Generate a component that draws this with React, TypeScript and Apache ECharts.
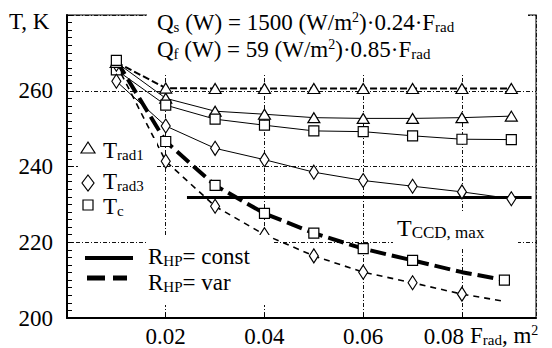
import React, { useEffect, useRef } from 'react';
import * as echarts from 'echarts';

const SERIF = 'Liberation Serif';

// F_rad positions (m^2)
const fRad = [0.01, 0.02, 0.03, 0.04, 0.05, 0.06, 0.07, 0.08, 0.09];
const fRadVar = [0.01, 0.02, 0.03, 0.04, 0.05, 0.06, 0.07, 0.08, 0.0886];

// R_HP = const (solid thin)
const tRad1Const = [267.5, 258.0, 254.6, 253.8, 252.9, 252.7, 252.7, 252.9, 253.3];
const tRad3Const = [262.5, 250.7, 244.8, 241.8, 238.5, 236.3, 234.8, 233.3, 231.5];
const tCConst = [265.5, 256.2, 252.5, 250.9, 249.4, 249.2, 248.1, 247.2, 247.1];

// R_HP = var (dashed)
const tRad1Var = [267.5, 260.7, 260.6, 260.6, 260.6, 260.6, 260.6, 260.6, 260.6];
const tRad3Var = [267.0, 241.4, 229.5, 222.0, 216.4, 212.1, 209.3, 206.3, 204.4];
const tCVar = [268.0, 246.6, 235.0, 227.6, 222.4, 218.3, 215.2, 212.1, 210.0];

// points drawn without a marker (index into arrays)
const tRad3VarNoMarker = [8];
const tCVarNoMarker = [7];

// T_CCD,max
const tCcdMax = 231.8;
const tCcdRange = [0.0243, 0.0941];

const yTicks = { min: 200, max: 280, interval: 20 };
const xTicks = { min: 0, max: 0.095, interval: 0.02 };

function pts(xs: number[], ys: number[], hidden: number[] = []) {
  return ys.map((y, i) =>
    hidden.includes(i) ? { value: [xs[i], y], symbol: 'none' } : { value: [xs[i], y] }
  );
}

const markerStyle = { color: '#fff', borderColor: '#000', borderWidth: 1.2 };

const textRich = {
  m: { fontSize: 23, fontFamily: SERIF, fill: '#000', lineHeight: 24, verticalAlign: 'middle' },
  s: { fontSize: 15, fontFamily: SERIF, fill: '#000', lineHeight: 11, verticalAlign: 'bottom' },
  p: { fontSize: 14, fontFamily: SERIF, fill: '#000', lineHeight: 12, verticalAlign: 'top' },
  M: { fontSize: 24, fontFamily: SERIF, fill: '#000', lineHeight: 25, verticalAlign: 'middle' },
  S: { fontSize: 17, fontFamily: SERIF, fill: '#000', lineHeight: 12, verticalAlign: 'bottom' },
};

function rtext(x: number, y: number, text: string) {
  return {
    type: 'text',
    x,
    y,
    z: 60,
    style: { text, rich: textRich, verticalAlign: 'middle', align: 'left' },
  };
}

function bg(x: number, y: number, w: number, h: number) {
  return { type: 'rect', z: 50, shape: { x, y, width: w, height: h }, style: { fill: '#fff' } };
}

export default function App() {
  const ref = useRef<HTMLDivElement>(null);
  useEffect(() => {
    if (!ref.current) return;
    document.body.style.margin = '0';
    const chart = echarts.init(ref.current, null, { renderer: 'svg' });
    const gridLine = { show: true, lineStyle: { color: '#111', width: 1, type: [4, 2, 1, 2] } };
    const option: any = {
      animation: false,
      backgroundColor: '#fff',
      grid: {
        left: 67,
        right: 16,
        top: 15,
        bottom: 29,
        show: true,
        borderColor: '#555',
        borderWidth: 1.5,
      },
      xAxis: {
        type: 'value',
        min: xTicks.min,
        max: xTicks.max,
        interval: xTicks.interval,
        axisLine: { show: true, lineStyle: { color: '#000', width: 2 } },
        axisTick: { show: true, inside: true, length: 5, lineStyle: { color: '#000' } },
        splitLine: gridLine,
        axisLabel: {
          color: '#000',
          fontSize: 23,
          fontFamily: SERIF,
          margin: 7,
          showMaxLabel: false,
          formatter: (v: number) => {
            const r = Math.round(v * 100) / 100;
            if (r === 0) return '';
            if (r === 0.08) return '{s|0.08}';
            return r.toFixed(2);
          },
          rich: { s: { fontSize: 23, fontFamily: SERIF, color: '#000', padding: [0, 36, 0, 0] } },
        },
      },
      yAxis: {
        type: 'value',
        min: yTicks.min,
        max: yTicks.max,
        interval: yTicks.interval,
        axisLine: { show: true, lineStyle: { color: '#000', width: 2 } },
        axisTick: { show: true, inside: true, length: 6, lineStyle: { color: '#000' } },
        minorTick: { show: true, splitNumber: 10, length: 5, lineStyle: { color: '#000' } },
        splitLine: gridLine,
        axisLabel: {
          color: '#000',
          fontSize: 23,
          fontFamily: SERIF,
          margin: 14,
          showMaxLabel: false,
        },
      },
      series: [
        {
          name: 'Trad1 const',
          type: 'line',
          data: pts(fRad, tRad1Const),
          symbol: 'triangle',
          symbolSize: [12, 10],
          itemStyle: markerStyle,
          lineStyle: { color: '#000', width: 1 },
          z: 3,
        },
        {
          name: 'Tc const',
          type: 'line',
          data: pts(fRad, tCConst),
          symbol: 'rect',
          symbolSize: [10, 10],
          itemStyle: markerStyle,
          lineStyle: { color: '#000', width: 1 },
          z: 3,
        },
        {
          name: 'Trad3 const',
          type: 'line',
          data: pts(fRad, tRad3Const),
          symbol: 'diamond',
          symbolSize: [9, 14],
          itemStyle: markerStyle,
          lineStyle: { color: '#000', width: 1 },
          z: 3,
        },
        {
          name: 'Trad1 var',
          type: 'line',
          data: pts(fRad, tRad1Var),
          symbol: 'triangle',
          symbolSize: [12, 10],
          itemStyle: markerStyle,
          lineStyle: { color: '#000', width: 2, type: [7, 3] },
          z: 4,
        },
        {
          name: 'Trad3 var',
          type: 'line',
          data: pts(fRadVar, tRad3Var, tRad3VarNoMarker),
          symbol: 'diamond',
          symbolSize: [9, 14],
          itemStyle: markerStyle,
          lineStyle: { color: '#000', width: 1.6, type: [6, 5] },
          z: 3,
        },
        {
          name: 'Tc var',
          type: 'line',
          data: pts(fRadVar, tCVar, tCVarNoMarker),
          symbol: 'rect',
          symbolSize: [10, 10],
          itemStyle: markerStyle,
          lineStyle: { color: '#000', width: 4, type: [16, 6] },
          z: 4,
        },
        {
          name: 'T_CCD,max',
          type: 'line',
          data: tCcdRange.map((x) => [x, tCcdMax]),
          symbol: 'none',
          lineStyle: { color: '#000', width: 3 },
          z: 2,
        },
      ],
      graphic: [
        // white backgrounds of annotation blocks
        bg(147, 0, 381, 73),
        bg(78, 138, 79, 77),
        bg(147, 235, 125, 70),
        bg(393, 212, 125, 36),
        // axis titles
        rtext(9, 21, '{m|T, K}'),
        rtext(470, 335, '{m|F}{s|rad}{m|, m}{p|2}'),
        // equations
        rtext(157, 22, '{m|Q}{s|s}{m| (W) = 1500 (W/m}{p|2}{m|)·0.24·F}{s|rad}'),
        rtext(157, 49, '{m|Q}{s|f}{m| (W) = 59 (W/m}{p|2}{m|)·0.85·F}{s|rad}'),
        // T_CCD,max label
        rtext(397, 228, '{M|T}{S|CCD, max}'),
        // marker legend
        {
          type: 'polygon',
          z: 60,
          shape: { points: [[88, 142], [95, 153], [81, 153]] },
          style: { fill: '#fff', stroke: '#000', lineWidth: 1.2 },
        },
        {
          type: 'polygon',
          z: 60,
          shape: { points: [[88, 175], [94, 183], [88, 191], [82, 183]] },
          style: { fill: '#fff', stroke: '#000', lineWidth: 1.2 },
        },
        {
          type: 'rect',
          z: 60,
          shape: { x: 83, y: 200, width: 10, height: 10 },
          style: { fill: '#fff', stroke: '#000', lineWidth: 1.2 },
        },
        rtext(103, 150, '{m|T}{s|rad1}'),
        rtext(103, 181, '{m|T}{s|rad3}'),
        rtext(103, 206, '{m|T}{s|c}'),
        // line-style legend
        {
          type: 'line',
          z: 60,
          shape: { x1: 85, y1: 258, x2: 133, y2: 258 },
          style: { stroke: '#000', lineWidth: 4 },
        },
        {
          type: 'line',
          z: 60,
          shape: { x1: 87, y1: 278, x2: 127, y2: 278 },
          style: { stroke: '#000', lineWidth: 5, lineDash: [18, 8] },
        },
        rtext(148, 256, '{m|R}{s|HP}{m|= const}'),
        rtext(148, 282, '{m|R}{s|HP}{m|= var}'),
      ],
    };
    chart.setOption(option);
    return () => chart.dispose();
  }, []);
  return (
    <div
      ref={ref}
      style={{ position: 'absolute', left: 0, top: 0, width: 552, height: 348 }}
    />
  );
}
